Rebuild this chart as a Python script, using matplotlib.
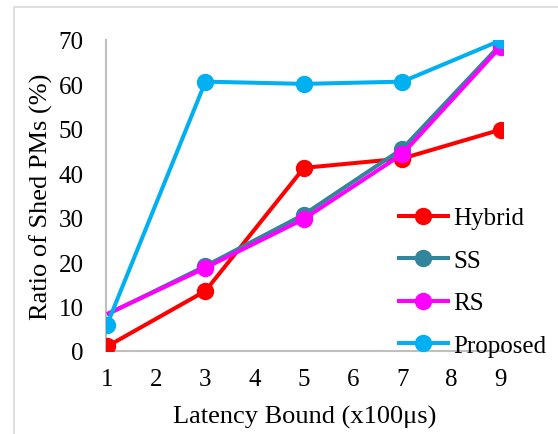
import matplotlib
matplotlib.use("Agg")
import matplotlib.pyplot as plt
from matplotlib.patches import Rectangle

plt.rcParams['font.family'] = ['Liberation Serif', 'DejaVu Serif']

latency = [1, 3, 5, 7, 9]
hybrid = [1, 13.5, 41.2, 43.3, 49.8]
ss = [8.2, 19.1, 30.7, 45.5, 69.0]
rs = [8.3, 18.7, 29.7, 44.3, 68.5]
proposed = [5.9, 60.6, 60.1, 60.6, 69.9]

series = [
    ('Hybrid', hybrid, '#FF0000', None),
    ('SS', ss, '#31859C', [1, 2, 3, 4]),
    ('RS', rs, '#FF00FF', [1, 2, 3, 4]),
    ('Proposed', proposed, '#00B0F0', None),
]

fig = plt.figure(figsize=(5.58, 4.35), dpi=100)
ax = fig.add_axes([0.19, 0.191, 0.711, 0.715])

for name, vals, col, every in series:
    ax.plot(latency, vals, color=col, lw=2.9, marker='o', ms=11.5,
            markevery=every, label=name, solid_capstyle='butt')

ax.set_xlim(0.98, 9.04)
ax.set_ylim(0, 70)
ax.set_xticks(range(1, 10))
ax.set_yticks(range(0, 71, 10))

for s in ['top', 'right']:
    ax.spines[s].set_visible(False)
for s in ['left', 'bottom']:
    ax.spines[s].set_color('#BFBFBF')
    ax.spines[s].set_linewidth(1.5)
    ax.spines[s].set_zorder(0.5)

ax.tick_params(length=0, labelsize=18)
ax.tick_params(axis='y', pad=16)
ax.tick_params(axis='x', pad=12)

ax.set_xlabel('Latency Bound (x100μs)', fontsize=19, labelpad=11)
ax.set_ylabel('Ratio of Shed PMs (%)', fontsize=19, labelpad=4)

ax.legend(loc='upper left', bbox_to_anchor=(377 / 558, 1 - 188 / 435),
          bbox_transform=fig.transFigure, frameon=False, fontsize=18,
          handlelength=2.1, handletextpad=0.15, labelspacing=0.8,
          borderpad=0.3)

# chart area border
fig.add_artist(Rectangle((14 / 558, -0.05), 1.2, 1 - 8 / 435 + 0.05,
                         transform=fig.transFigure, fill=False,
                         ec='#D9D9D9', lw=1.2))

fig.savefig('out.png', dpi=100)
